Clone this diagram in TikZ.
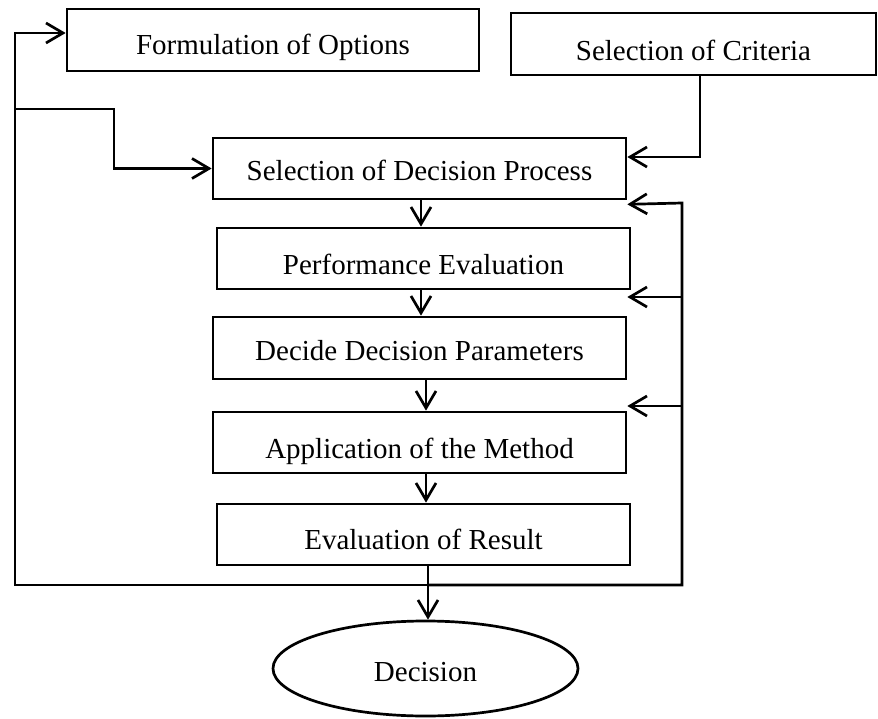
\documentclass[tikz,border=0pt]{standalone}
\usepackage{fontspec}
\setmainfont{Liberation Serif}
\usetikzlibrary{arrows.meta,shapes.geometric}

\tikzset{
  stage/.style={draw, line width=2.7pt, rectangle, inner sep=0pt,
    minimum height=61pt, text depth=0pt,
    font=\fontsize{29}{34}\selectfont},
  txt/.style={text height=#1pt},
  outcome/.style={draw, line width=2.7pt, ellipse, inner sep=0pt,
    minimum width=305pt, minimum height=95pt, text depth=0pt,
    font=\fontsize{29}{34}\selectfont},
  link/.style={line width=2.7pt},
  arr/.style={link, -{Straight Barb[length=17pt,width=20pt,line width=2.7pt]}}
}

\begin{document}
\begin{tikzpicture}[x=1pt,y=-1pt]
  \useasboundingbox[fill=white] (0,0) rectangle (878,719);

  % stages of the decision procedure
  \node[stage, txt=29.2, minimum width=412pt, minimum height=62pt] (opt) at (273,40) {Formulation of Options};
  \node[stage, txt=33.2, minimum width=365pt, minimum height=62pt] (crit) at (693.5,44) {Selection of Criteria};
  \node[stage, txt=24.0, minimum width=413pt] (sdp) at (419.5,168.5) {Selection of Decision Process};
  \node[stage, txt=31.2, minimum width=413pt] (pe)  at (423.5,258.5) {Performance Evaluation};
  \node[stage, txt=24.2, minimum width=413pt, minimum height=62pt] (ddp) at (419.5,348) {Decide Decision Parameters};
  \node[stage, txt=32.2, minimum width=413pt] (am)  at (419.5,442.5) {Application of the Method};
  \node[stage, txt=30.2, minimum width=413pt] (er)  at (423.5,534.5) {Evaluation of Result};
  \node[outcome, txt=26.2] (dec) at (425.5,668.5) {Decision};

  % bends of the feedback loops
  \coordinate (split) at (428,585);
  \coordinate (lb) at (15,585);
  \coordinate (lt) at (15,33);
  \coordinate (lm) at (15,109);
  \coordinate (lk) at (114,109);
  \coordinate (rb) at (682,585);
  \coordinate (fb1) at (682,203);
  \coordinate (fb2) at (682,297);
  \coordinate (fb3) at (682,406);
  \coordinate (ck) at (700,157);

  % main flow
  \draw[arr] ([xshift=1.5pt]sdp.south) -- ([xshift=-2.5pt]pe.north);
  \draw[arr] ([xshift=-2.5pt]pe.south) -- ([xshift=1.5pt]ddp.north);
  \draw[arr] ([xshift=6.5pt]ddp.south) -- ([xshift=6.5pt]am.north);
  \draw[arr] ([xshift=6.5pt]am.south) -- ([xshift=2.5pt]er.north);
  \draw[arr] ([xshift=4.5pt]er.south) -- ([xshift=2.5pt]dec.north);

  % criteria feed the choice of process
  \draw[arr] (ck |- crit.south) -- (ck) -- (ck -| sdp.east);

  % left feedback loop
  \draw[arr] (split) -- (lb) -- (lt) -- (lt -| opt.west);
  \draw[arr] (lm) -- (lk) -- (lk |- sdp.west) -- (sdp.west);

  % right feedback loop
  \draw[arr] (split) -- (rb) -- (fb1) -- ([yshift=-4pt]sdp.south east);
  \draw[arr] (fb2) -- (fb2 -| ddp.east);
  \draw[arr] (fb3) -- (fb3 -| am.east);
\end{tikzpicture}
\end{document}
